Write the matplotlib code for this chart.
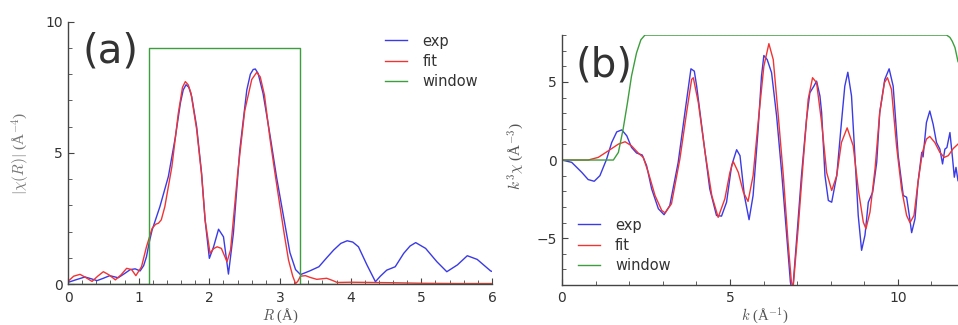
import matplotlib.pyplot as plt
from matplotlib.ticker import MultipleLocator

# -----------------------------------------------------------
# Datos (a): |chi(R)|
r_exp = [0, 0.03, 0.12, 0.24, 0.33, 0.41, 0.5, 0.59, 0.65, 0.71, 0.8, 0.88, 0.95, 1.02,
         1.07, 1.11, 1.15, 1.19, 1.3, 1.42, 1.52, 1.59, 1.63, 1.67, 1.71, 1.75, 1.82,
         1.89, 1.94, 2.0, 2.06, 2.13, 2.2, 2.27, 2.34, 2.43, 2.53, 2.58, 2.62, 2.65,
         2.69, 2.76, 2.86, 2.95, 3.05, 3.14, 3.22, 3.29, 3.42, 3.55, 3.66, 3.76, 3.86,
         3.95, 4.03, 4.11, 4.23, 4.35, 4.42, 4.51, 4.63, 4.75, 4.84, 4.92, 5.06, 5.22,
         5.36, 5.51, 5.65, 5.79, 5.98, 6.0]
chir_exp = [0.07, 0.09, 0.17, 0.27, 0.2, 0.13, 0.22, 0.32, 0.28, 0.24, 0.4, 0.55, 0.58, 0.5,
            0.7, 1.04, 1.6, 2.06, 2.95, 4.1, 5.62, 6.9, 7.4, 7.6, 7.5, 7.15, 6.0,
            4.23, 2.44, 0.98, 1.42, 2.09, 1.8, 0.38, 1.93, 5.1, 7.4, 8.0, 8.18, 8.2,
            8.03, 7.27, 5.65, 4.09, 2.57, 1.2, 0.55, 0.36, 0.5, 0.66, 1.0, 1.30, 1.55,
            1.65, 1.6, 1.42, 0.73, 0.09, 0.3, 0.53, 0.66, 1.17, 1.45, 1.58, 1.36, 0.85,
            0.47, 0.73, 1.08, 0.94, 0.5, 0.48]

r_fit = [0, 0.08, 0.17, 0.25, 0.34, 0.42, 0.5, 0.58, 0.67, 0.75, 0.83, 0.9, 0.96, 1.04,
         1.11, 1.19, 1.24, 1.28, 1.32, 1.37, 1.47, 1.56, 1.62, 1.66, 1.7, 1.74, 1.82,
         1.89, 1.94, 2.01, 2.06, 2.11, 2.17, 2.25, 2.3, 2.4, 2.5, 2.6, 2.67, 2.72, 2.78,
         2.86, 2.93, 3.0, 3.06, 3.12, 3.18, 3.22, 3.25, 3.29, 3.36, 3.43, 3.52, 3.59,
         3.66, 3.74, 3.81, 4.0, 4.3, 4.6, 5.0, 5.5, 6.0]
chir_fit = [0.1, 0.3, 0.37, 0.25, 0.1, 0.3, 0.47, 0.35, 0.16, 0.35, 0.6, 0.55, 0.32, 0.66,
            1.42, 2.12, 2.28, 2.32, 2.45, 2.95, 4.48, 6.5, 7.5, 7.72, 7.6, 7.28, 5.9,
            4.17, 2.44, 1.17, 1.35, 1.42, 1.36, 0.85, 1.3, 4.2, 6.6, 7.8, 8.07, 7.9, 7.2,
            5.5, 4.2, 2.95, 1.9, 0.92, 0.3, 0.02, 0.1, 0.3, 0.32, 0.25, 0.18, 0.2,
            0.22, 0.14, 0.06, 0.07, 0.06, 0.05, 0.03, 0.02, 0.02]

r_win = [0, 1.14, 1.14, 3.28, 3.28, 6.0]
chir_win = [0, 0, 9.0, 9.0, 0, 0]

# -----------------------------------------------------------
# Datos (b): k^3 chi(k)
k_exp = [0, 0.29, 0.59, 0.78, 0.96, 1.13, 1.33, 1.48, 1.63, 1.78, 1.93, 2.07, 2.22, 2.39,
         2.52, 2.67, 2.87, 3.04, 3.21, 3.46, 3.66, 3.84, 3.94, 4.01, 4.21, 4.4, 4.6,
         4.75, 4.9, 5.05, 5.2, 5.3, 5.43, 5.57, 5.69, 5.84, 5.94, 6.01, 6.11, 6.24,
         6.39, 6.54, 6.69, 6.8, 6.86, 6.98, 7.13, 7.28, 7.38, 7.5, 7.58, 7.68, 7.73,
         7.83, 7.93, 8.03, 8.18, 8.32, 8.42, 8.51, 8.62, 8.72, 8.82, 8.92, 9.02, 9.12,
         9.25, 9.37, 9.46, 9.61, 9.74, 9.86, 10.01, 10.16, 10.26, 10.34, 10.41, 10.51,
         10.6, 10.71, 10.75, 10.85, 10.95, 11.05, 11.15, 11.25, 11.33, 11.4, 11.46,
         11.55, 11.63, 11.68, 11.73, 11.79]
chik_exp = [0, -0.15, -0.79, -1.25, -1.36, -1.0, 0.06, 1.12, 1.8, 1.93, 1.55, 0.81, 0.45, 0.32,
            -0.36, -1.85, -3.12, -3.5, -2.91, -0.15, 3.04, 5.84, 5.69, 4.73, 1.34, -1.85, -3.55,
            -3.59, -2.7, -0.36, 0.66, 0.28, -2.27, -3.82, -2.27, 1.97, 5.37, 6.69, 6.43, 5.59,
            2.82, -0.79, -4.82, -7.8, -8.6, -5.24, -1.0, 2.61, 4.31, 4.73, 5.05, 4.1, 3.04,
            -1.0, -2.59, -2.7, -1.0, 2.4, 4.73, 5.62, 4.1, 0.28, -3.55, -5.78, -4.82, -2.7,
            -2.06, -0.15, 3.04, 5.16, 5.84, 4.73, 0.28, -2.27, -2.38, -3.55, -4.65, -3.76,
            -1.42, 0.49, 0.2, 2.4, 3.14, 2.29, 1.12, 0.7, -0.25, 0.7, 0.8,
            1.76, 0.06, -1.1, -0.47, -1.32]

k_fit = [0, 0.78, 1.08, 1.38, 1.68, 1.88, 2.07, 2.27, 2.42, 2.57, 2.77, 2.97, 3.07, 3.26,
         3.51, 3.71, 3.86, 3.91, 4.06, 4.26, 4.46, 4.65, 4.85, 5.0, 5.1, 5.25, 5.4, 5.54,
         5.69, 5.84, 6.01, 6.16, 6.29, 6.44, 6.59, 6.73, 6.83, 6.88, 7.03, 7.18, 7.33,
         7.46, 7.58, 7.73, 7.88, 8.03, 8.18, 8.32, 8.49, 8.67, 8.82, 8.97, 9.05, 9.17,
         9.32, 9.46, 9.6, 9.69, 9.81, 9.96, 10.11, 10.26, 10.36, 10.48, 10.6, 10.73,
         10.85, 10.95, 11.1, 11.25, 11.38, 11.5, 11.65, 11.79]
chik_fit = [0, 0, 0.17, 0.59, 1.02, 1.17, 0.91, 0.45, 0.17, -0.79, -2.27, -3.23, -3.38, -2.8,
            0.06, 3.04, 5.16, 5.27, 3.67, 0.49, -2.27, -3.67, -2.48, -0.79, -0.1, -0.79, -2.06, -2.65,
            -1.0, 2.4, 6.0, 7.45, 6.43, 2.82, -1.0, -5.24, -7.8, -8.2, -4.4, -0.15, 3.89,
            5.27, 4.95, 2.4, -0.8, -1.95, -1.0, 1.12, 2.06, 0.91, -1.85, -3.97, -4.4, -3.33,
            -0.57, 3.04, 4.95, 5.27, 4.52, 0.91, -1.85, -3.55, -4.01, -3.55, -1.42, 0.49,
            1.34, 1.51, 1.12, 0.49, 0.17, 0.28, 0.74, 1.02]

k_win = [0, 1.53, 1.68, 1.82, 1.95, 2.07, 2.22, 2.35, 2.47, 11.45, 11.55, 11.62, 11.7, 11.79]
chik_win = [0, 0, 0.49, 1.97, 3.67, 5.37, 6.86, 7.7, 8.0, 8.0, 7.85, 7.6, 7.2, 6.3]

labels = ["exp", "fit", "window"]
colores = ["#3a3ae6", "#f03434", "#3c9e3c"]

# -----------------------------------------------------------
plt.rcParams['mathtext.fontset'] = 'cm'
plt.rcParams['font.family'] = 'DejaVu Sans'

fig = plt.figure(figsize=(9.58, 3.25), dpi=100, facecolor='white')
ax1 = fig.add_axes([0.071, 0.126, 0.4426, 0.807])
ax2 = fig.add_axes([0.5866, 0.1231, 0.4134, 0.769])

serif = 'Liberation Serif'  # para los titulos de los ejes


def estilo_ejes(ax, xpad):
    # solo ejes izquierdo e inferior, ticks hacia adentro
    for lado in ['top', 'right']:
        ax.spines[lado].set_visible(False)
    for lado in ['left', 'bottom']:
        ax.spines[lado].set_color('#444444')
        ax.spines[lado].set_linewidth(1.0)
    ax.tick_params(which='both', direction='in', colors='#444444', labelcolor='#333333',
                   labelsize=10)
    ax.tick_params(which='major', length=4)
    ax.tick_params(which='minor', length=3)
    ax.tick_params(axis='x', pad=xpad)
    ax.tick_params(axis='y', pad=3.5)


# Grafico (a)
ax1.plot(r_exp, chir_exp, color=colores[0], lw=1.0, label=labels[0])
ax1.plot(r_fit, chir_fit, color=colores[1], lw=1.0, label=labels[1])
ax1.plot(r_win, chir_win, color=colores[2], lw=1.0, label=labels[2])
ax1.set(xlim=(0, 6), ylim=(0, 10), xticks=range(0, 7), yticks=[0, 5, 10])
ax1.xaxis.set_minor_locator(MultipleLocator(0.2))
ax1.yaxis.set_minor_locator(MultipleLocator(1))
estilo_ejes(ax1, 5)
ax1.set_xlabel(r'$R$ (Å)', fontsize=10.5, color='#555555', fontfamily=serif)
ax1.set_ylabel(r'$|\chi(R)|$ (Å$^{-4}$)', fontsize=11, color='#777777', fontfamily=serif)
ax1.xaxis.set_label_coords(0.5, -0.085)
ax1.yaxis.set_label_coords(-0.085, 0.5)
ax1.text(0.033, 0.885, "(a)", transform=ax1.transAxes, fontsize=29, color='#333333',
         ha='left', va='center')
ax1.legend(loc='upper left', bbox_to_anchor=(0.748, 0.955), frameon=False, fontsize=10.5,
           handlelength=1.5, handletextpad=1.05, labelspacing=0.35, borderpad=0,
           borderaxespad=0, labelcolor='#333333')

# Grafico (b)
ax2.plot(k_exp, chik_exp, color=colores[0], lw=1.0, label=labels[0])
ax2.plot(k_fit, chik_fit, color=colores[1], lw=1.0, label=labels[1])
ax2.plot(k_win, chik_win, color=colores[2], lw=1.0, label=labels[2])
ax2.set(xlim=(0, 11.79), ylim=(-8, 8), xticks=[0, 5, 10], yticks=[-5, 0, 5])
ax2.xaxis.set_minor_locator(MultipleLocator(1))
ax2.yaxis.set_minor_locator(MultipleLocator(1))
estilo_ejes(ax2, 4.5)
ax2.set_xlabel(r'$k$ (Å$^{-1}$)', fontsize=10.5, color='#555555', fontfamily=serif)
ax2.set_ylabel(r'$k^3\chi$ (Å$^{-3}$)', fontsize=11, color='#555555', fontfamily=serif)
ax2.xaxis.set_label_coords(0.513, -0.085)
ax2.yaxis.set_label_coords(-0.091, 0.516)
ax2.text(0.033, 0.88, "(b)", transform=ax2.transAxes, fontsize=29, color='#333333',
         ha='left', va='center')
ax2.legend(loc='upper left', bbox_to_anchor=(0.04, 0.27), frameon=False, fontsize=10.5,
           handlelength=1.5, handletextpad=1.05, labelspacing=0.35, borderpad=0,
           borderaxespad=0, labelcolor='#333333')

plt.savefig("out.png", dpi=100, facecolor='white')
